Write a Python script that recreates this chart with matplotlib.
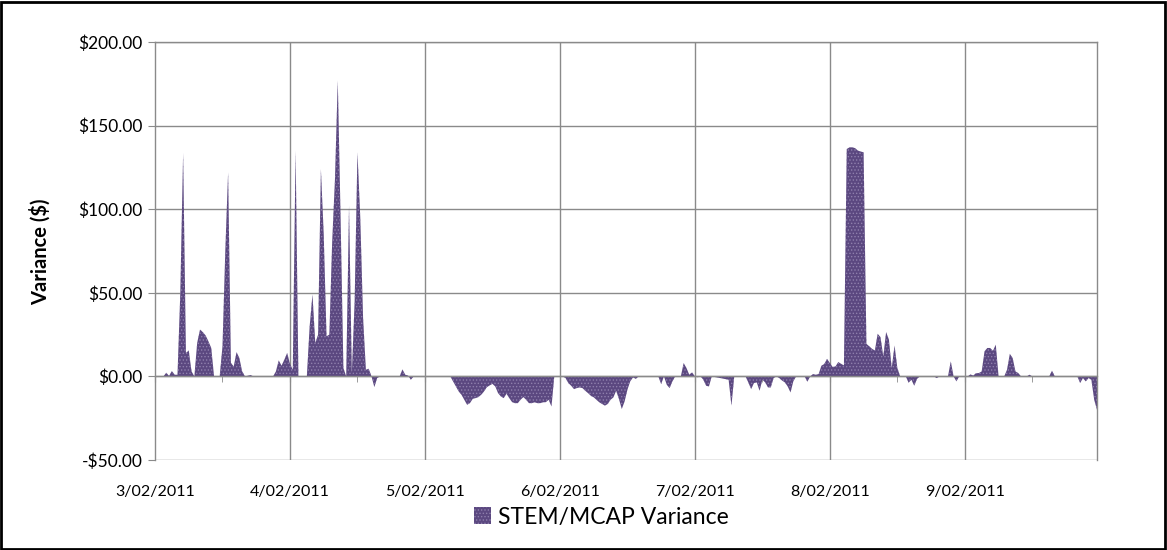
import matplotlib.pyplot as plt
from matplotlib.patches import Rectangle, Patch
from matplotlib.ticker import FixedLocator, FuncFormatter

# half-hourly trading intervals (48 per day), only the turning points are listed
interval = [0, 3, 4, 5, 6, 7, 8, 9, 10, 11, 12, 13, 14, 15, 16, 17, 18, 19, 20, 21,
            23, 24, 25, 26, 27, 28, 29, 30, 31, 32, 34, 35, 42, 43, 44, 45, 46, 47, 48, 49,
            50, 51, 54, 55, 56, 57, 58, 59, 60, 61, 62, 63, 64, 65, 66, 67, 68, 69, 70, 71,
            72, 73, 74, 75, 76, 77, 78, 79, 80, 87, 88, 89, 90, 91, 92,
            105, 106, 107, 108, 109, 110, 111, 112, 113, 114, 115, 116, 117, 118, 119, 120,
            121, 122, 123, 124, 125, 126, 127, 128, 129, 130, 131, 132, 133, 134, 135, 136,
            137, 138, 139, 140, 141, 142,
            145, 146, 147, 148, 149, 150, 151, 152, 153, 154, 155, 156, 157, 158, 159, 160,
            161, 162, 163, 164, 165, 166, 167, 168, 169, 170, 171, 172, 179, 180, 181, 182,
            183, 184, 185, 187, 188, 189, 190, 191, 192,
            193, 194, 195, 196, 197, 198, 204, 205, 206, 210, 211, 212, 213, 214, 215, 216,
            217, 218, 219, 220, 221, 222, 223, 224, 225, 226, 227, 228, 231, 232, 233,
            234, 235, 236, 237, 238, 239, 240, 241, 242, 243, 244, 245, 246, 247, 248, 249,
            250, 251, 252, 253, 254, 255, 256, 257, 258, 259, 260, 261, 262, 263, 264, 265,
            267, 268, 269, 270, 271, 272, 277, 278, 279, 282, 283, 284, 285, 286, 287,
            289, 290, 291, 292, 293, 294, 295, 296, 297, 298, 299, 300, 302, 303, 304, 305,
            306, 307, 308, 310, 311, 312, 318, 319, 320, 328, 329, 330, 331, 332, 333, 334, 335]

variance = [0, 0, 2.2, 0.3, 3.2, 1, 1, 50, 133.5, 14, 15.5, 3, 0, 20, 28, 26.5, 24.5, 21, 17, 0,
            0, 18, 75, 122, 8, 6, 14.5, 11, 3, 0, 0.8, 0, 0, 3, 9.6, 6.4, 10, 14, 7.5, 4,
            135, 0, 0, 30, 49, 20, 25, 124, 85, 24, 25, 80, 118, 177, 95, 5, 0, 102, 2, 45,
            134, 95, 35, 4, 4.6, 0, -6.4, -1, 0, 0, 4.2, 1, 0.5, -2, 0,
            0, -3, -6, -9, -11, -14, -17, -16, -13.4, -13, -12.4, -11, -9, -6.5, -5.4, -4.5,
            -6, -10, -12, -13, -10.4, -13, -15.4, -16, -16, -14, -12.4, -14, -16, -16, -15.5, -16,
            -16, -15.5, -15.4, -14, -18, 0,
            0, -1, -4, -5.6, -7.6, -7, -6.6, -7, -8.6, -10, -11.6, -12.5, -14, -15.5, -16.5, -17.5,
            -16.5, -14, -12.6, -8.6, -13.6, -19.5, -15, -8, -3, -0.6, -1.5, 0, 0, -4.6, 0, -5,
            -7, -3, 0, 0, 8, 5, 1, 2.4, 0,
            -0.5, 0, -2, -5.6, -6, 0, -2, -17.5, 0, 0, -3.6, -7.6, -4, -3.6, -8.6, -2,
            -3.6, -6.6, -6.6, -1, 0, -1, -2.5, -3.6, -6, -9.6, -3, 0, 0, -3.2, 0,
            1.4, 1, 1.4, 6.4, 7.4, 10.5, 8, 5.6, 6, 8.6, 7.5, 6.6, 136, 137, 137, 136.5,
            135, 134.5, 134, 19.5, 18, 16.5, 15.5, 25.5, 23.5, 12, 26.5, 22, 5, 18.5, 5, 0,
            0, -3.8, -2, -5.6, -1.5, 0, 0, -1, 0, 0, 9, 0, -3, 0, 0,
            0, 1.2, 0.5, 2, 2, 3, 15, 17, 17, 15.3, 19, 0, 0, 4, 13.5, 11,
            3, 2, 0, 0, 1, 0, 0, 3.4, 0, 0, -4, -1, -3, -1, -2, -14, -20]

day_labels = ['3/02/2011', '4/02/2011', '5/02/2011', '6/02/2011',
              '7/02/2011', '8/02/2011', '9/02/2011']
y_ticks = [-50, 0, 50, 100, 150, 200]

plt.rcParams['font.family'] = ['Lato', 'DejaVu Sans']
plt.rcParams['hatch.linewidth'] = 0.6

fig = plt.figure(figsize=(11.67, 5.5), dpi=100)
ax = fig.add_axes([155 / 1167, 1 - 460 / 550, 942 / 1167, 418 / 550])

purple = '#5b4880'
dots = '#8f80ad'
ax.fill_between(interval, variance, 0, facecolor=purple, edgecolor=dots,
                hatch='.....', linewidth=0, zorder=2)

grid_c = '#8a8a8a'
ax.set_xlim(0, 335)
ax.set_ylim(-50, 200)

ax.set_yticks(y_ticks)
ax.yaxis.set_major_formatter(FuncFormatter(
    lambda v, p: ('-$%.2f' % abs(v)) if v < 0 else ('$%.2f' % v)))
ax.grid(axis='y', color=grid_c, linewidth=1, zorder=1)

major = [48 * i for i in range(len(day_labels))]
ax.xaxis.set_major_locator(FixedLocator(major))
ax.xaxis.set_minor_locator(FixedLocator([m + 24 for m in major]))
ax.set_xticklabels(day_labels)
for m in major[1:]:
    ax.axvline(m, color=grid_c, linewidth=1, zorder=1)

# category axis crosses at zero, labels stay below the plot
ax.spines['bottom'].set_position(('data', 0))
for s in ax.spines.values():
    s.set_color(grid_c)
    s.set_linewidth(1)
ax.tick_params(axis='x', which='both', direction='out', length=4, color=grid_c,
               pad=74, labelsize=11.5)
ax.tick_params(axis='y', direction='out', length=5, color=grid_c, labelsize=12.5, pad=4)

fig.text(40 / 1167, 1 - 252 / 550, 'Variance ($)', rotation=90, fontsize=14.5,
         fontweight='bold', ha='center', va='center')

leg = ax.legend(handles=[Patch(facecolor=purple, edgecolor=dots, hatch='.....',
                               linewidth=0, label='STEM/MCAP Variance')],
                loc='center', bbox_to_anchor=(0.474, -0.137), frameon=False,
                fontsize=16.5, handlelength=0.75, handleheight=0.75, handletextpad=0.3)

fig.patches.append(Rectangle((0.001, 0.002), 0.997, 0.995, transform=fig.transFigure,
                             fill=False, edgecolor='black', linewidth=2))

fig.savefig('out.png', dpi=100)
